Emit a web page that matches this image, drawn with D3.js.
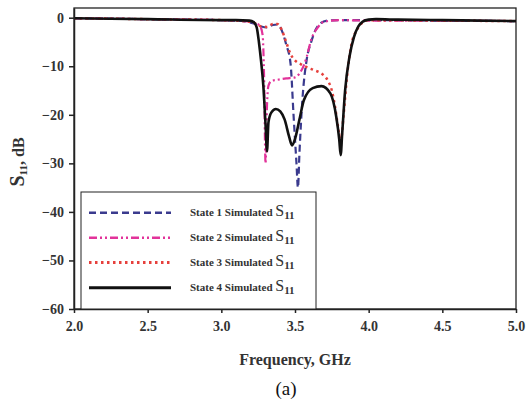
<!DOCTYPE html>
<html><head><meta charset="utf-8">
<script src="https://cdn.jsdelivr.net/npm/d3@7"></script>
<style>
html,body{margin:0;padding:0;background:#fff;}
svg{display:block;font-family:"Liberation Serif","Times New Roman",serif;}
</style></head>
<body><svg id="c" width="526" height="403"></svg>
<script>
// ---- data ----
const xTicks = [2.0, 2.5, 3.0, 3.5, 4.0, 4.5, 5.0];
const yTicks = [0, -10, -20, -30, -40, -50, -60];

const s1Freq = [2.0,2.5,3.0,3.15,3.22,3.27,3.31,3.35,3.38,3.41,3.44,3.47,3.49,3.51,3.52,3.53,3.55,3.58,3.61,3.64,3.67,3.72,3.8,4.0,4.5,5.0];
const s1Vals = [-0.1,-0.3,-0.5,-0.7,-1.2,-1.8,-2.0,-1.5,-1.4,-2.6,-5.5,-9.5,-20,-30,-35,-28,-17,-8.5,-5,-2.5,-1.2,-0.6,-0.5,-0.5,-0.6,-0.7];

const s2Freq = [2.0,2.5,3.0,3.15,3.22,3.26,3.28,3.29,3.30,3.31,3.32,3.34,3.38,3.44,3.50,3.53,3.56,3.58,3.61,3.65,3.70,3.8,4.0,4.5,5.0];
const s2Vals = [-0.1,-0.3,-0.5,-0.7,-1.0,-1.6,-3.5,-12,-30,-18,-14,-13,-12.8,-12.5,-12.3,-11.5,-9.8,-8.0,-4.5,-2.2,-0.8,-0.5,-0.6,-0.6,-0.7];

const s3Freq = [2.0,2.5,3.0,3.15,3.22,3.27,3.31,3.35,3.38,3.41,3.44,3.47,3.50,3.54,3.58,3.63,3.68,3.72,3.75,3.77,3.79,3.81,3.83,3.85,3.88,3.92,3.96,4.0,4.5,5.0];
const s3Vals = [-0.1,-0.3,-0.5,-0.7,-1.0,-1.8,-1.9,-1.3,-1.3,-2.5,-5,-7.5,-8.8,-9.6,-10.2,-10.8,-11.5,-12.8,-15,-18,-22,-25.5,-20,-13,-6,-2.5,-1,-0.5,-0.6,-0.7];

const s4Freq = [2.0,2.5,3.0,3.1,3.19,3.22,3.24,3.255,3.27,3.285,3.30,3.31,3.32,3.34,3.37,3.40,3.43,3.46,3.48,3.50,3.53,3.56,3.62,3.68,3.74,3.78,3.80,3.81,3.82,3.84,3.87,3.90,3.93,3.96,4.0,4.05,4.2,4.5,5.0];
const s4Vals = [-0.1,-0.3,-0.5,-0.5,-0.6,-0.9,-2,-5,-9,-14,-22,-27.5,-21.5,-19.5,-18.8,-19.3,-21,-24.5,-26.3,-25,-21,-17,-14.5,-14.1,-15.6,-20.4,-25,-28.3,-24,-15,-8,-4,-1.8,-0.8,-0.4,-0.3,-0.4,-0.5,-0.7];

const seriesNames = ["State 1 Simulated ", "State 2 Simulated ", "State 3 Simulated ", "State 4 Simulated "];

// ---- chart ----
const svg = d3.select("#c");
const L = 74, R = 516, T = 8, B = 309;
const x = d3.scaleLinear().domain([2, 5]).range([L, R]);
const y = d3.scaleLinear().domain([-60, 2]).range([B, T]);

const styles = [
  {stroke:"#3a3a8e", width:2.2, dash:"7,4"},
  {stroke:"#e2339a", width:2.2, dash:"8,3,2,3,2,3"},
  {stroke:"#e6403c", width:2.5, dash:"2.5,3.5"},
  {stroke:"#111111", width:2.6, dash:null}
];
const series = [
  s1Freq.map((f,i)=>[f,s1Vals[i]]),
  s2Freq.map((f,i)=>[f,s2Vals[i]]),
  s3Freq.map((f,i)=>[f,s3Vals[i]]),
  s4Freq.map((f,i)=>[f,s4Vals[i]])
];

// frame
svg.append("rect").attr("x",L).attr("y",T).attr("width",R-L).attr("height",B-T)
  .attr("fill","#fff").attr("stroke","#222").attr("stroke-width",1.3);

const line = d3.line().x(d=>x(d[0])).y(d=>y(d[1])).curve(d3.curveMonotoneX);
const plot = svg.append("g");
series.forEach((s,i)=>{
  plot.append("path").datum(s).attr("d",line).attr("fill","none")
    .attr("stroke",styles[i].stroke).attr("stroke-width",styles[i].width)
    .attr("stroke-dasharray",styles[i].dash).attr("stroke-linejoin","round");
});

// axes
const xAxis = d3.axisBottom(x).tickValues(xTicks).tickSize(4).tickSizeOuter(0).tickPadding(8).tickFormat(d3.format(".1f"));
const yAxis = d3.axisLeft(y).tickValues(yTicks).tickSize(5).tickSizeOuter(0).tickPadding(5).tickFormat(d3.format("d"));
const gx = svg.append("g").attr("transform",`translate(0,${B})`).call(xAxis);
const gy = svg.append("g").attr("transform",`translate(${L},0)`).call(yAxis);
[gx,gy].forEach(g=>{
  g.select(".domain").attr("stroke","#222").attr("stroke-width",1.5);
  g.selectAll(".tick line").attr("stroke","#222").attr("stroke-width",1.5);
  g.selectAll(".tick text").attr("font-family","Liberation Serif, serif")
    .attr("font-weight","bold").attr("font-size",14).attr("fill","#333");
});

// legend
const lg = svg.append("g");
lg.append("rect").attr("x",81).attr("y",192).attr("width",235).attr("height",B-192)
  .attr("fill","#fff").attr("stroke","#222").attr("stroke-width",1);
const rowY = [212.7, 237.7, 262.5, 287.7];
seriesNames.forEach((n,i)=>{
  lg.append("line").attr("x1",89).attr("x2",171).attr("y1",rowY[i]).attr("y2",rowY[i])
    .attr("stroke",styles[i].stroke).attr("stroke-width",styles[i].width+0.4)
    .attr("stroke-dasharray",styles[i].dash);
  const t = lg.append("text").attr("x",190).attr("y",rowY[i]+3.5)
    .attr("font-weight","bold").attr("font-size",11).attr("fill","#333");
  t.append("tspan").text(n);
  t.append("tspan").attr("font-size",16).attr("font-weight","normal").text("S");
  t.append("tspan").attr("font-size",11).attr("dy",3).text("11");
});

// axis titles
svg.append("text").attr("x",295).attr("y",365).attr("text-anchor","middle")
  .attr("font-weight","bold").attr("font-size",16).attr("fill","#333").text("Frequency, GHz");
svg.append("text").attr("x",286).attr("y",395).attr("text-anchor","middle")
  .attr("font-size",19).attr("fill","#111").text("(a)");
const yl = svg.append("text").attr("transform","translate(24,162) rotate(-90)")
  .attr("text-anchor","middle").attr("font-weight","bold").attr("fill","#333");
yl.append("tspan").attr("font-size",20).text("S");
yl.append("tspan").attr("font-size",11).attr("dy",3).text("11");
yl.append("tspan").attr("font-size",16).attr("dy",-3).text(", dB");
</script></body></html>
